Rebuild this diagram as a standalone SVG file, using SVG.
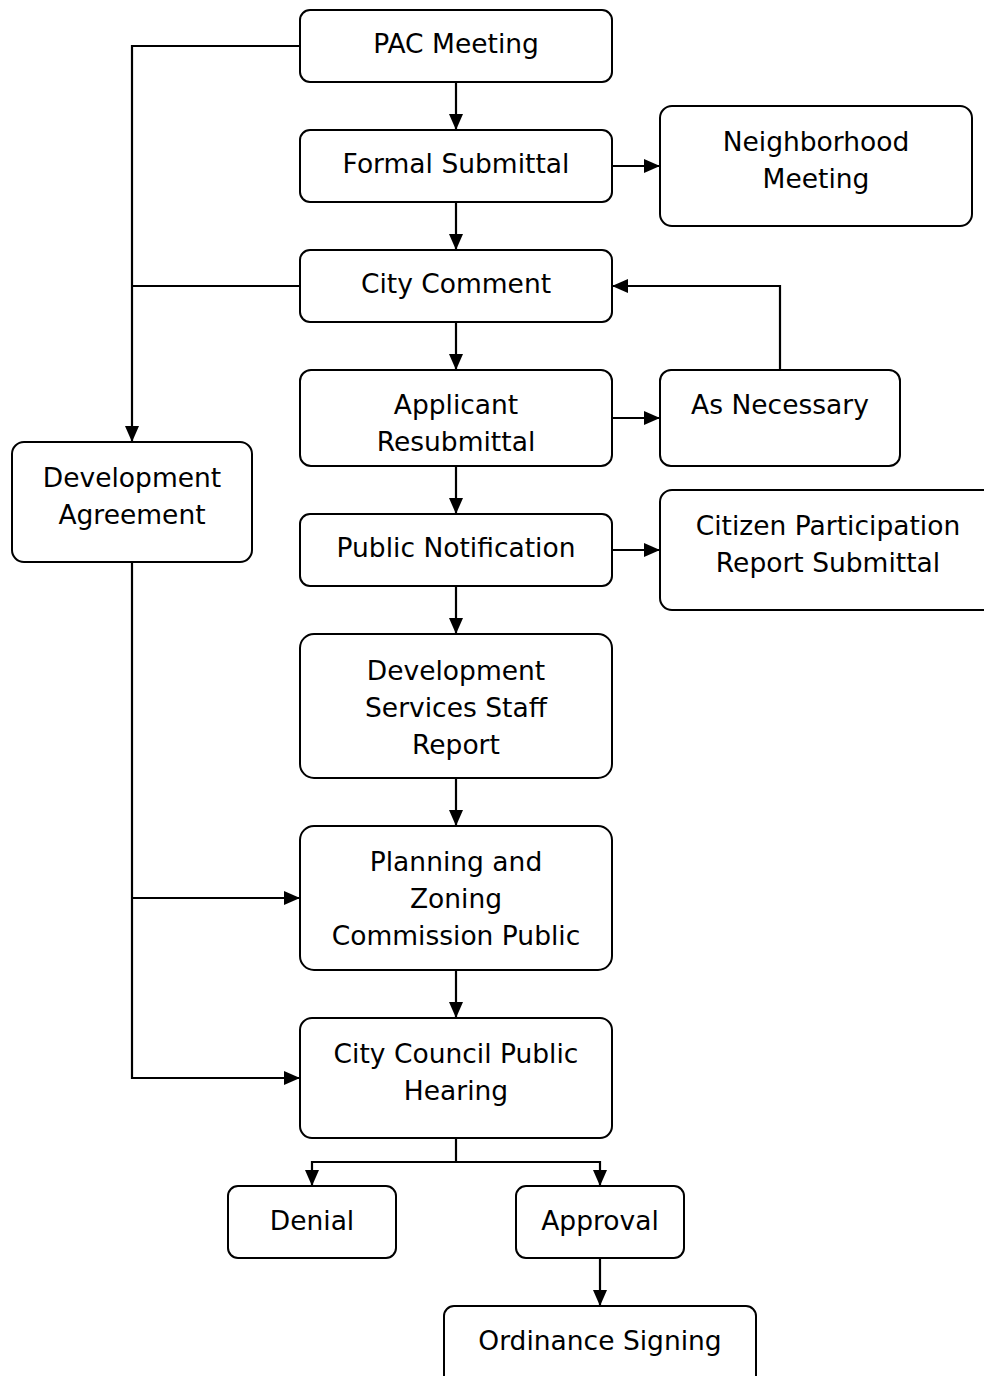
<svg xmlns="http://www.w3.org/2000/svg" width="984" height="1376" viewBox="0 0 984 1376">
<style>
.box{fill:#fff;stroke:#000;stroke-width:2}
.t{font-family:"DejaVu Sans",Verdana,sans-serif;font-size:26.5px;fill:#000;text-anchor:middle}
.c{fill:none;stroke:#000;stroke-width:2.2}
</style>
<defs>
<marker id="ah" viewBox="0 0 16 14" refX="16" refY="7" markerWidth="16" markerHeight="14" markerUnits="userSpaceOnUse" orient="auto">
<path d="M0,0 L16,7 L0,14 Z" fill="#000"/>
</marker>
</defs>
<rect width="984" height="1376" fill="#fff"/>
<g id="connectors">
<path class="c" d="M300,46 H132 V442" marker-end="url(#ah)"/>
<path class="c" d="M300,286 H132"/>
<path class="c" d="M456,82 V130" marker-end="url(#ah)"/>
<path class="c" d="M456,202 V250" marker-end="url(#ah)"/>
<path class="c" d="M612,166 H660" marker-end="url(#ah)"/>
<path class="c" d="M456,322 V370" marker-end="url(#ah)"/>
<path class="c" d="M612,418 H660" marker-end="url(#ah)"/>
<path class="c" d="M780,370 V286 H612" marker-end="url(#ah)"/>
<path class="c" d="M456,466 V514" marker-end="url(#ah)"/>
<path class="c" d="M612,550 H660" marker-end="url(#ah)"/>
<path class="c" d="M456,586 V634" marker-end="url(#ah)"/>
<path class="c" d="M456,778 V826" marker-end="url(#ah)"/>
<path class="c" d="M456,970 V1018" marker-end="url(#ah)"/>
<path class="c" d="M132,562 V1078 H300" marker-end="url(#ah)"/>
<path class="c" d="M132,898 H300" marker-end="url(#ah)"/>
<path class="c" d="M456,1138 V1162"/>
<path class="c" d="M456,1162 H312 V1186" marker-end="url(#ah)"/>
<path class="c" d="M456,1162 H600 V1186" marker-end="url(#ah)"/>
<path class="c" d="M600,1258 V1306" marker-end="url(#ah)"/>
</g>
<g id="pac"><rect class="box" x="300" y="10" width="312" height="72" rx="10"/><text class="t" x="456" y="53">PAC Meeting</text></g>
<g id="formal"><rect class="box" x="300" y="130" width="312" height="72" rx="10"/><text class="t" x="456" y="173">Formal Submittal</text></g>
<g id="neighborhood"><rect class="box" x="660" y="106" width="312" height="120" rx="12"/><text class="t" x="816" y="151">Neighborhood</text><text class="t" x="816" y="188">Meeting</text></g>
<g id="citycomment"><rect class="box" x="300" y="250" width="312" height="72" rx="10"/><text class="t" x="456" y="293">City Comment</text></g>
<g id="resubmittal"><rect class="box" x="300" y="370" width="312" height="96" rx="11"/><text class="t" x="456" y="414">Applicant</text><text class="t" x="456" y="451">Resubmittal</text></g>
<g id="asnecessary"><rect class="box" x="660" y="370" width="240" height="96" rx="11"/><text class="t" x="780" y="414">As Necessary</text></g>
<g id="devagreement"><rect class="box" x="12" y="442" width="240" height="120" rx="12"/><text class="t" x="132" y="487">Development</text><text class="t" x="132" y="524">Agreement</text></g>
<g id="publicnotification"><rect class="box" x="300" y="514" width="312" height="72" rx="10"/><text class="t" x="456" y="557">Public Notification</text></g>
<g id="citizen"><rect class="box" x="660" y="490" width="336" height="120" rx="12"/><text class="t" x="828" y="535">Citizen Participation</text><text class="t" x="828" y="572">Report Submittal</text></g>
<g id="staffreport"><rect class="box" x="300" y="634" width="312" height="144" rx="14"/><text class="t" x="456" y="680">Development</text><text class="t" x="456" y="717">Services Staff</text><text class="t" x="456" y="754">Report</text></g>
<g id="pz"><rect class="box" x="300" y="826" width="312" height="144" rx="14"/><text class="t" x="456" y="871">Planning and</text><text class="t" x="456" y="908">Zoning</text><text class="t" x="456" y="945">Commission Public</text></g>
<g id="council"><rect class="box" x="300" y="1018" width="312" height="120" rx="12"/><text class="t" x="456" y="1063">City Council Public</text><text class="t" x="456" y="1100">Hearing</text></g>
<g id="denial"><rect class="box" x="228" y="1186" width="168" height="72" rx="10"/><text class="t" x="312" y="1230">Denial</text></g>
<g id="approval"><rect class="box" x="516" y="1186" width="168" height="72" rx="10"/><text class="t" x="600" y="1230">Approval</text></g>
<g id="ordinance"><rect class="box" x="444" y="1306" width="312" height="80" rx="10"/><text class="t" x="600" y="1350">Ordinance Signing</text></g>
</svg>
